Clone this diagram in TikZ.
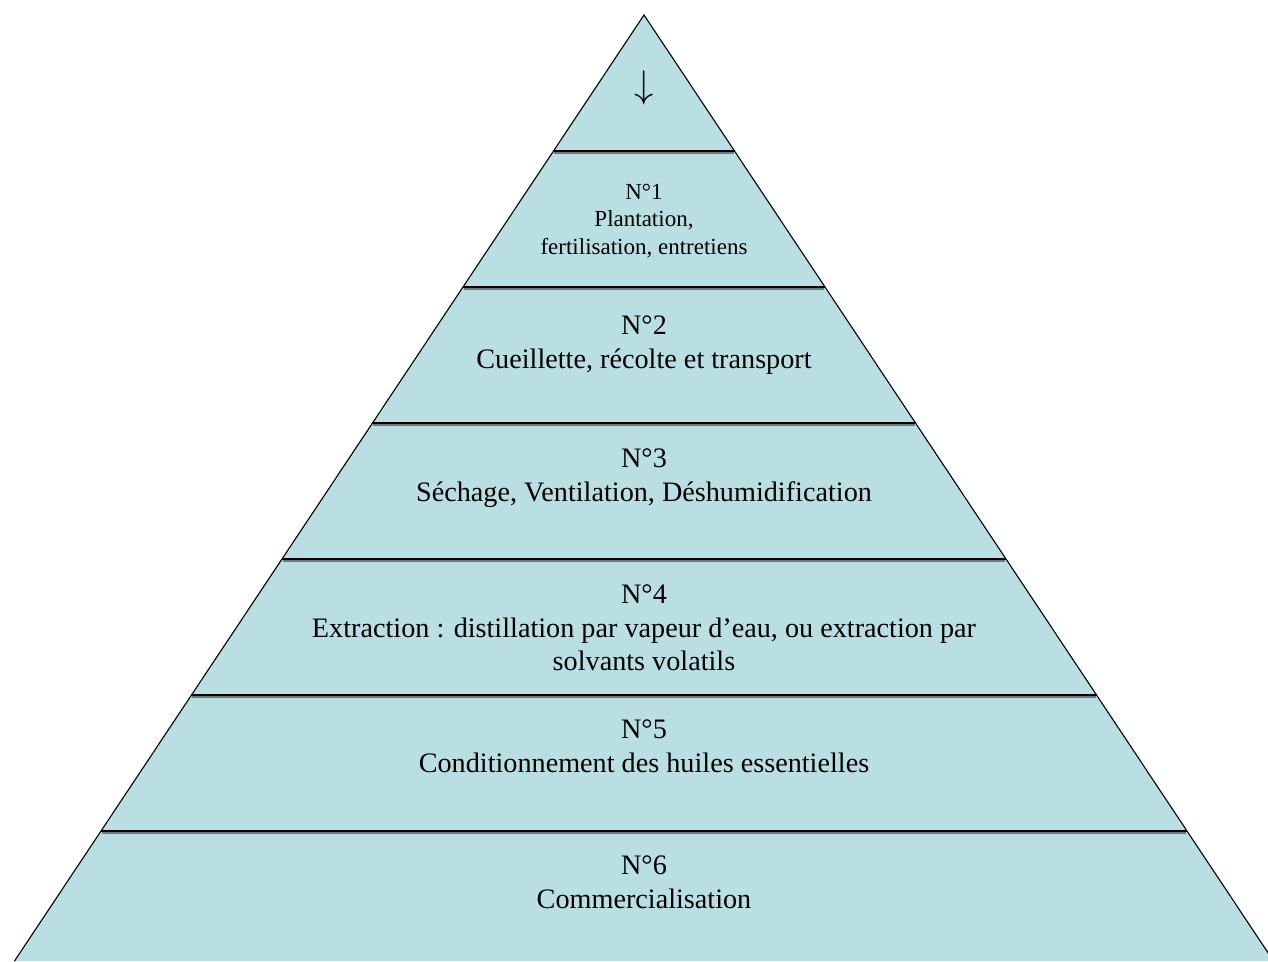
\documentclass[tikz,border=0pt]{standalone}
\usepackage{graphicx}
\usepackage{fontspec}
\setmainfont{Liberation Serif}
\usetikzlibrary{calc}
\definecolor{pyrfill}{RGB}{186,223,226}
\definecolor{shadowgray}{RGB}{110,120,122}
\tikzset{
  divider/.style={draw=black, line width=1.6pt},
  dividershadow/.style={draw=shadowgray, line width=1.2pt},
  bigtxt/.style={align=center, font=\fontsize{28.2}{33.5}\selectfont, inner sep=0pt},
  smalltxt/.style={align=center, font=\fontsize{23}{27.5}\selectfont, inner sep=0pt},
}
\begin{document}
\begin{tikzpicture}[x=1pt,y=-1pt]
\useasboundingbox (0,0) rectangle (1268,961);
\coordinate (apex) at (644,15);
\coordinate (bl) at (14.5,961);
\coordinate (br) at (1273.5,961);
\begin{scope}
\clip (0,0) rectangle (1268,961);
\fill[pyrfill] (apex) -- (bl) -- (br) -- cycle;
\draw[line width=1.1pt] (bl) -- (apex) -- (br);
\foreach \k in {1,...,6}{
  \pgfmathsetmacro{\t}{\k*0.143763}
  \coordinate (L\k) at ($(apex)!\t!(bl)$);
  \coordinate (R\k) at ($(apex)!\t!(br)$);
  \draw[dividershadow] ($(L\k)+(0.8,2)$) -- ($(R\k)+(-0.8,2)$);
  \draw[divider] (L\k) -- (R\k);
}
\end{scope}
\node[font=\fontsize{24.88}{25}\selectfont, inner sep=0pt] (arrow) at (644,88) {\scalebox{1.55}{$\downarrow$}};
\node[smalltxt] (n1) at (644,221) {N°1\\Plantation,\\fertilisation, entretiens};
\node[bigtxt] (n2) at (644,345) {N°2\\Cueillette, récolte et transport};
\node[bigtxt] (n3) at (644,478) {N°3\\Séchage, Ventilation, Déshumidification};
\node[bigtxt] (n4) at (644,628) {N°4\\Extraction : distillation par vapeur d’eau, ou extraction par\\solvants volatils};
\node[bigtxt] (n5) at (644,746) {N°5\\Conditionnement des huiles essentielles};
\node[bigtxt] (n6) at (644,882) {N°6\\Commercialisation};
\end{tikzpicture}
\end{document}
